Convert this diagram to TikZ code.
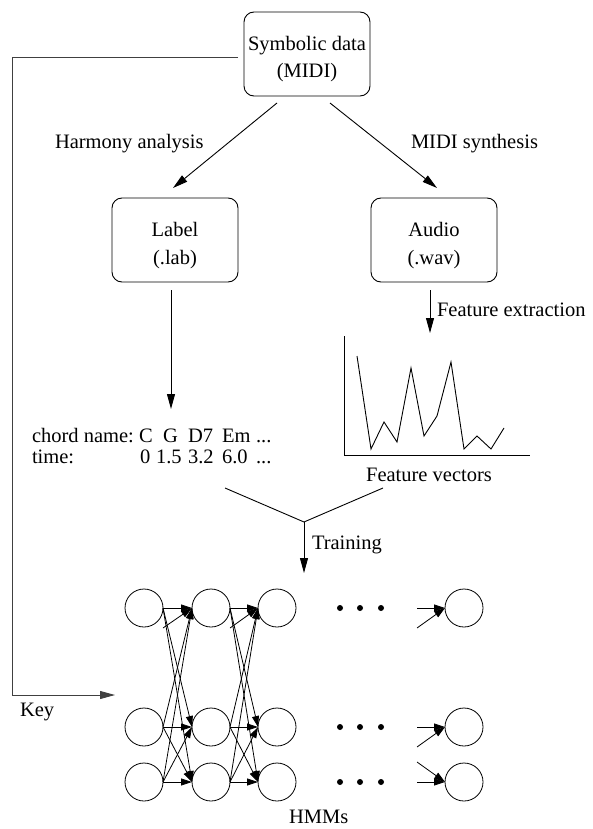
\documentclass[tikz,border=0pt]{standalone}
\usepackage{fontspec}
\setmainfont{Liberation Serif}
\usetikzlibrary{arrows.meta,calc}
\begin{document}
\begin{tikzpicture}[x=1pt,y=-1pt,
  every node/.style={inner sep=0pt, outer sep=0pt},
  txt/.style={font=\fontsize{20.5}{24}\selectfont, anchor=base},
  txtl/.style={txt, anchor=base west},
  box/.style={draw, rounded corners=10pt, minimum width=126pt, minimum height=84pt, line width=0.9pt},
  arr/.style={-{Triangle[length=15pt,width=8pt]}, line width=0.9pt},
  harr/.style={-{Triangle[length=11pt,width=7pt]}, line width=0.8pt},
  st/.style={draw, circle, minimum size=38pt, line width=0.8pt},
  dot/.style={fill, circle, minimum size=6pt},
  keyline/.style={arr, draw=black!75},
]
\useasboundingbox (0,0) rectangle (592,829);

% boxes
\node[box] (midi) at (307,54) {};
\node[txt] (midi1) at (307,51) {Symbolic data};
\node[txt] (midi2) at (307,78) {(MIDI)};
\node[box] (label) at (175,240) {};
\node[txt] (label1) at (175,236) {Label};
\node[txt] (label2) at (175,264) {(.lab)};
\node[box] (audio) at (434,240) {};
\node[txt] (audio1) at (434,236) {Audio};
\node[txt] (audio2) at (434,264) {(.wav)};

% labels
\node[txtl] (harm) at (55,149) {Harmony analysis};
\node[txtl] (synth) at (411,149) {MIDI synthesis};
\node[txtl] (fext) at (437,316) {Feature extraction};
\node[txt] (fvec) at (429,481) {Feature vectors};
\node[txtl] (train) at (312,549) {Training};
\node[txtl] (key) at (20,716) {Key};
\node[txtl] (hmms) at (289,823) {HMMs};

% chord text
\node[txtl] (cn) at (32,442) {chord name:};
\node[txtl] (cC) at (139,442) {C};
\node[txtl] (cG) at (163,442) {G};
\node[txtl] (cD) at (188,442) {D7};
\node[txtl] (cE) at (222,442) {Em};
\node[txtl] (cX) at (256,442) {...};
\node[txtl] (tm) at (32,463) {time:};
\node[txtl] (t0) at (140,463) {0};
\node[txtl] (t1) at (156,463) {1.5};
\node[txtl] (t2) at (188,463) {3.2};
\node[txtl] (t3) at (222,463) {6.0};
\node[txtl] (tX) at (256,463) {...};

% coordinates
\coordinate (ltip) at (171,409);
\coordinate (atip) at (430,333);
\coordinate (kcorner) at (12,57);
\coordinate (ktip) at (115,695);
\coordinate (jl) at (225,488);
\coordinate (jr) at (383,488);
\coordinate (jm) at (304,522);
\coordinate (ttip) at (304,573);

% main arrows
\draw[arr] ([xshift=-30pt,yshift=-7pt]midi.south) -- ([xshift=-2pt,yshift=10pt]label.north);
\draw[arr] ([xshift=23pt,yshift=-7pt]midi.south) -- ([xshift=3pt,yshift=10pt]audio.north);
\draw[arr] ([xshift=-4pt,yshift=-8pt]label.south) -- (ltip);
\draw[arr] ([xshift=-4pt,yshift=-8pt]audio.south) -- (atip);
\draw[keyline] ([xshift=-6pt,yshift=-3pt]midi.west) -- (kcorner) |- (ktip);
\draw[line width=0.9pt] (jl) -- (jm) -- (jr);
\draw[arr] (jm) -- (ttip);

% feature plot
\draw[line width=0.9pt] (344,336) -- (344,455) -- (530,455);
\draw[line width=0.9pt] (357,356) -- (371,449) -- (384,422) -- (397,442) -- (411,368)
  -- (424,436) -- (437,416) -- (451,362) -- (464,449) -- (477,436) -- (491,449) -- (504,428);

% HMM states
\foreach \c/\x in {1/144,2/211,3/277,4/464}
  \foreach \r/\y in {1/608,2/727,3/782}
    \node[st] (s\c\r) at (\x,\y) {};
\foreach \r/\y in {1/608,2/727,3/782}
  \foreach \i/\x in {1/340,2/360,3/381}
    \node[dot] (d\r\i) at (\x,\y) {};

\foreach \a/\b in {1/2,2/3}{
  \foreach \i in {1,2,3}
    \foreach \j in {1,2,3}
      \draw[harr] (s\a\i.east) -- (s\b\j.west);
  \draw[harr] ([yshift=-20pt]s\a1.east) -- (s\b1.west);
}
\draw[harr] ([xshift=-28pt]s41.west) -- (s41.west);
\draw[harr] ([xshift=-28pt,yshift=-20pt]s41.west) -- (s41.west);
\draw[harr] ([xshift=-28pt]s42.west) -- (s42.west);
\draw[harr] ([xshift=-28pt,yshift=-20pt]s42.west) -- (s42.west);
\draw[harr] ([xshift=-28pt]s43.west) -- (s43.west);
\draw[harr] ([xshift=-28pt,yshift=20pt]s43.west) -- (s43.west);
\end{tikzpicture}
\end{document}
